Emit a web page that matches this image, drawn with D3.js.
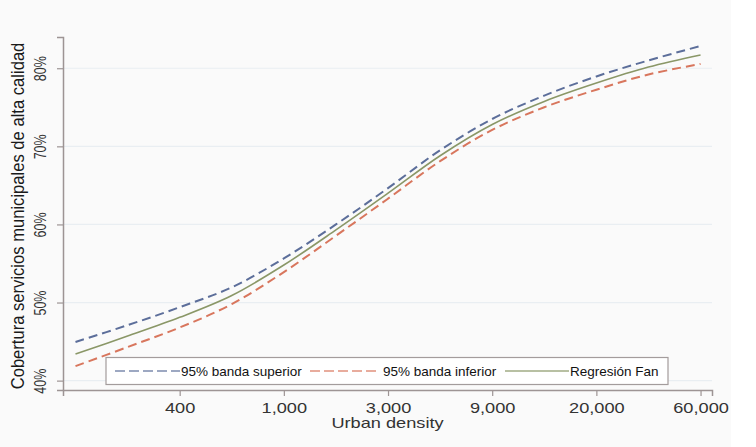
<!DOCTYPE html>
<html>
<head>
<meta charset="utf-8">
<script src="https://cdn.jsdelivr.net/npm/d3@7"></script>
<style>
  body { margin: 0; background: #ffffff; }
  svg { display: block; font-family: "Liberation Sans", Arial, sans-serif; }
</style>
</head>
<body>
<svg id="chart"></svg>
<script>
const width = 756, height = 447;
const margin = { top: 37, right: 44, bottom: 57, left: 63 };
const plotWidth = width - margin.left - margin.right;
const plotHeight = height - margin.top - margin.bottom;

// x is log urban density (ticks labelled with the rounded density)
const lnDensity = [5.0, 5.5, 6.0, 6.5, 7.0, 7.5, 8.0, 8.5, 9.0, 9.5, 10.0, 10.5, 11.0];
const fitValues = [43.4, 45.7, 48.1, 50.9, 54.8, 59.3, 64.0, 68.8, 72.8, 75.75, 78.1, 80.15, 81.7];
const upperValues = [44.95, 47.1, 49.4, 51.95, 55.65, 60.0, 64.65, 69.5, 73.5, 76.5, 78.95, 81.0, 82.85];
const lowerValues = [41.85, 44.3, 46.8, 49.8, 53.9, 58.55, 63.3, 68.1, 72.1, 75.0, 77.25, 79.2, 80.55];

const xTickValues = [6, 7, 8, 9, 10, 11];
const xTickLabels = ["400", "1,000", "3,000", "9,000", "20,000", "60,000"];
const yTickValues = [40, 50, 60, 70, 80];

const seriesNames = ["95% banda superior", "95% banda inferior", "Regresión Fan"];
const seriesColors = ["#5c6e9a", "#d8765d", "#8a9767"];

const axisColor = "#9d9494";
const textColor = "#333333";
const stretch = 1.3; // source picture is stretched horizontally

const svg = d3.select("#chart")
    .attr("width", width)
    .attr("height", height)
    .attr("viewBox", [0, 0, width, height]);

// background
svg.append("rect").attr("width", width).attr("height", height).attr("fill", "#fafafa");
svg.append("rect").attr("x", 731).attr("width", width - 731).attr("height", height).attr("fill", "#ffffff");

const g = svg.append("g")
    .attr("transform", `translate(${margin.left},${margin.top})`);

const x = d3.scaleLinear().domain([4.88, 11.11]).range([0, plotWidth]);
const y = d3.scaleLinear().domain([38.8, 84.0]).range([plotHeight, 0]);

// gridlines
g.append("g")
    .selectAll("line")
    .data(yTickValues)
    .join("line")
    .attr("x1", 0)
    .attr("x2", plotWidth)
    .attr("y1", d => y(d))
    .attr("y2", d => y(d))
    .attr("stroke", "#e9eef2")
    .attr("stroke-width", 1.2);

// y axis
const yAxis = g.append("g")
    .call(d3.axisLeft(y).tickValues(yTickValues).tickSize(6).tickFormat(d => d + "%"));
yAxis.select(".domain").attr("stroke", axisColor).attr("stroke-width", 1.5);
yAxis.selectAll(".tick line").attr("stroke", axisColor).attr("stroke-width", 1.2);
yAxis.selectAll(".tick text")
    .attr("x", null).attr("dy", null)
    .attr("transform", `translate(-17.5,0) scale(${stretch},1) rotate(-90)`)
    .attr("text-anchor", "middle")
    .attr("fill", textColor)
    .style("font-size", "12.5px");

// x axis
const xAxis = g.append("g")
    .attr("transform", `translate(0,${plotHeight})`)
    .call(d3.axisBottom(x).tickValues(xTickValues).tickSize(6).tickFormat((d, i) => xTickLabels[i]));
xAxis.select(".domain").attr("stroke", axisColor).attr("stroke-width", 1.5);
xAxis.selectAll(".tick line").attr("stroke", axisColor).attr("stroke-width", 1.2);
xAxis.selectAll(".tick text")
    .attr("y", null).attr("dy", null)
    .attr("transform", `translate(0,22.5) scale(${stretch},1)`)
    .attr("fill", textColor)
    .style("font-size", "14px");

// axis titles
g.append("text")
    .attr("transform", `translate(${plotWidth / 2},${plotHeight + 37.5}) scale(${stretch},1)`)
    .attr("text-anchor", "middle")
    .attr("fill", textColor)
    .style("font-size", "14px")
    .text("Urban density");

svg.append("text")
    .attr("transform", `translate(24,216) scale(1.15,1) rotate(-90)`)
    .attr("text-anchor", "middle")
    .attr("fill", "#1a1a1a")
    .style("font-size", "16.6px")
    .text("Cobertura servicios municipales de alta calidad");

// curves
const line = d3.line()
    .x(d => x(d[0]))
    .y(d => y(d[1]))
    .curve(d3.curveCatmullRom.alpha(0.5));

const seriesData = [upperValues, lowerValues, fitValues];
const dashes = ["9,5", "9,5", null];
const widths = [2, 2, 1.6];

seriesData.forEach((vals, i) => {
    g.append("path")
        .datum(lnDensity.map((ln, j) => [ln, vals[j]]))
        .attr("fill", "none")
        .attr("stroke", seriesColors[i])
        .attr("stroke-width", widths[i])
        .attr("stroke-dasharray", dashes[i])
        .attr("d", line);
});

// legend
const legend = svg.append("g");
legend.append("rect")
    .attr("x", 106).attr("y", 357.5)
    .attr("width", 562).attr("height", 27)
    .attr("fill", "#ffffff")
    .attr("stroke", "#a39c9c")
    .attr("stroke-width", 1.2);

const legendItems = [
    { x1: 115, x2: 180, tx: 181 },
    { x1: 310, x2: 378, tx: 383 },
    { x1: 505, x2: 569, tx: 570 }
];
const legendDashes = ["10,4", "10,4", null];

legendItems.forEach((it, i) => {
    legend.append("line")
        .attr("x1", it.x1).attr("x2", it.x2)
        .attr("y1", 371).attr("y2", 371)
        .attr("stroke", seriesColors[i])
        .attr("stroke-opacity", 0.8)
        .attr("stroke-width", 1.6)
        .attr("stroke-dasharray", legendDashes[i]);
    legend.append("text")
        .attr("transform", `translate(${it.tx},376)`)
        .attr("fill", "#111111")
        .style("font-size", "13.5px")
        .text(seriesNames[i]);
});
</script>
</body>
</html>
